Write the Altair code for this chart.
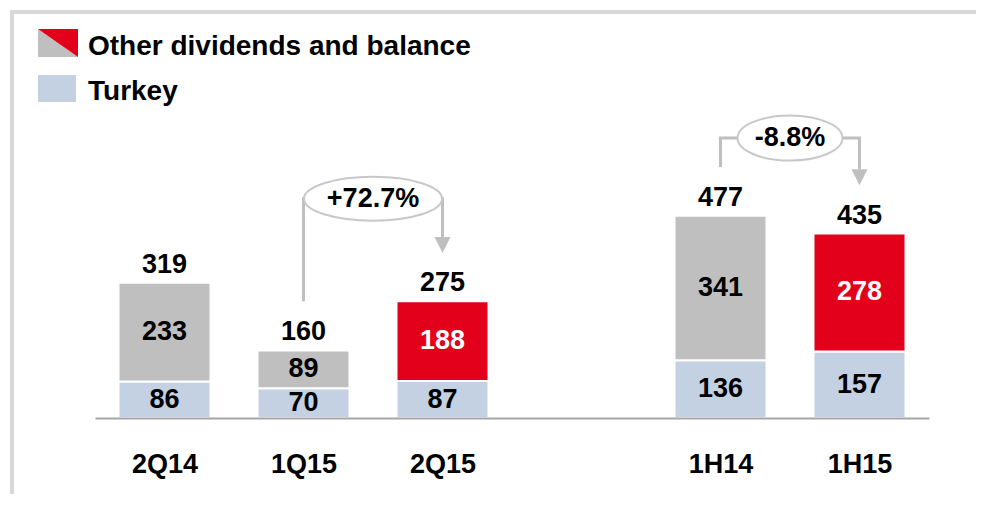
import altair as alt
import pandas as pd

# ---- data ----
categories = ["2Q14", "1Q15", "2Q15", "1H14", "1H15"]
turkey = [86, 70, 87, 136, 157]
other = [233, 89, 188, 341, 278]
totals = [319, 160, 275, 477, 435]
other_kind = ["prior", "prior", "current", "prior", "current"]
legend_labels = ["Other dividends and balance", "Turkey"]
ann_from = ["1Q15", "1H14"]
ann_to = ["2Q15", "1H15"]
ann_text = ["+72.7%", "-8.8%"]

# ---- styling / layout ----
GRAY = "#BFBFBF"
RED = "#E2001A"
BLUE = "#C3D1E2"
LINE = "#BFBFBF"
FONT = "Liberation Sans"
FS = 27
W, H = 834, 313
YMAX = 738
PX = H / YMAX  # pixels per unit

slot = {c: i + (1 if i >= 3 else 0) for i, c in enumerate(categories)}
slots = [slot[c] for c in categories]

rows = []
for i, c in enumerate(categories):
    rows.append(dict(cat=c, slot=slot[c], y0=0, y1=turkey[i], kind="turkey",
                     label=str(turkey[i]), tcol="black"))
    top = turkey[i] + other[i]
    rows.append(dict(cat=c, slot=slot[c], y0=turkey[i], y1=top, kind=other_kind[i],
                     label=str(other[i]), tcol="white" if other_kind[i] == "current" else "black"))
seg = pd.DataFrame(rows)
seg["mid"] = (seg["y0"] + seg["y1"]) / 2
tot = pd.DataFrame(dict(slot=slots, total=totals, label=[str(t) for t in totals]))

label_expr = "".join(f"datum.value == {slot[c]} ? '{c}' : " for c in categories) + "''"


def xenc():
    return alt.X("slot:Q",
                 scale=alt.Scale(domain=[-0.5, 5.5], nice=False, zero=False, padding=0),
                 axis=alt.Axis(values=slots, labelExpr=label_expr, title=None,
                               grid=False, ticks=False, domainColor="#A6A6A6",
                               domainWidth=2, labelFont=FONT, labelFontSize=FS,
                               labelFontWeight="bold", labelColor="black",
                               labelPadding=33, labelBaseline="top", zindex=1))


def yenc(field):
    return alt.Y(field, scale=alt.Scale(domain=[0, YMAX], nice=False, zero=True), axis=None)


bars = alt.Chart(seg).mark_bar(size=92, stroke="white", strokeWidth=2).encode(
    x=xenc(), y=yenc("y0:Q"), y2="y1:Q",
    color=alt.Color("kind:N", scale=alt.Scale(domain=["turkey", "prior", "current"],
                                              range=[BLUE, GRAY, RED]), legend=None))

seg_text = alt.Chart(seg).mark_text(font=FONT, fontSize=FS, fontWeight="bold",
                                    baseline="middle").encode(
    x=xenc(), y=yenc("mid:Q"), text="label:N",
    color=alt.Color("tcol:N", scale=None))

tot_text = alt.Chart(tot).mark_text(font=FONT, fontSize=FS, fontWeight="bold",
                                    baseline="alphabetic", dy=-10, color="black").encode(
    x=xenc(), y=yenc("total:Q"), text="label:N")

# ---- change annotations ----
ann_level = [517, 660]
k = 0.5523
ell_dims = [(69, 22), (52.5, 22.5)]
layers = []
for j in range(len(ann_text)):
    i0 = categories.index(ann_from[j])
    i1 = categories.index(ann_to[j])
    s0, s1 = slot[ann_from[j]], slot[ann_to[j]]
    start = totals[i0] + 115
    tip = totals[i1] + 114
    lvl = ann_level[j]
    head = 16 / PX
    path_df = pd.DataFrame(dict(o=[0, 1, 2, 3], slot=[s0, s0, s1, s1],
                                y=[start, lvl, lvl, tip + head]))
    layers.append(alt.Chart(path_df).mark_line(color=LINE, strokeWidth=3,
                                               strokeJoin="miter", strokeCap="butt").encode(
        x=xenc(), y=yenc("y:Q"), order="o:Q"))
    arrow_df = pd.DataFrame(dict(slot=[s1], y=[tip + head / 2]))
    layers.append(alt.Chart(arrow_df).mark_point(
        shape="M -1 -1 L 1 -1 L 0 1 Z", size=256, filled=True, fill=LINE,
        strokeWidth=0, opacity=1).encode(x=xenc(), y=yenc("y:Q")))
    rx, ry = ell_dims[j]
    r = ry / rx
    ell = (f"M -1 0 C -1 {-k*r:.4f} {-k} {-r:.4f} 0 {-r:.4f} "
           f"C {k} {-r:.4f} 1 {-k*r:.4f} 1 0 "
           f"C 1 {k*r:.4f} {k} {r:.4f} 0 {r:.4f} "
           f"C {-k} {r:.4f} -1 {k*r:.4f} -1 0 Z")
    ell_df = pd.DataFrame(dict(slot=[(s0 + s1) / 2], y=[lvl], label=[ann_text[j]]))
    layers.append(alt.Chart(ell_df).mark_point(
        shape=ell, size=(2 * rx) ** 2, fill="white", fillOpacity=1, stroke="#C8C8C8",
        strokeWidth=2, opacity=1).encode(x=xenc(), y=yenc("y:Q")))
    layers.append(alt.Chart(ell_df).mark_text(
        font=FONT, fontSize=FS, fontWeight="bold", color="black", baseline="middle").encode(
        x=xenc(), y=yenc("y:Q"), text="label:N"))

# ---- frame ----
FR = "#D9D9D9"
frame_top = alt.Chart().mark_rule(color=FR, strokeWidth=4).encode(
    x=alt.value(-85), x2=alt.value(W + 50), y=alt.value(-93))
frame_left = alt.Chart().mark_rule(color=FR, strokeWidth=4).encode(
    x=alt.value(-83), y=alt.value(-95), y2=alt.value(H + 80))

# ---- manual legend ----
sw_red = alt.Chart().mark_point(shape="M -1 -0.7 L 1 -0.7 L 1 0.7 Z", size=1600,
                                filled=True, fill=RED, strokeWidth=0, opacity=1).encode(
    x=alt.value(-37), y=alt.value(-62))
sw_gray = alt.Chart().mark_point(shape="M -1 -0.7 L -1 0.7 L 1 0.7 Z", size=1600,
                                 filled=True, fill=GRAY, strokeWidth=0, opacity=1).encode(
    x=alt.value(-37), y=alt.value(-62))
sw_blue = alt.Chart().mark_rect(color=BLUE).encode(
    x=alt.value(-57), x2=alt.value(-19), y=alt.value(-30), y2=alt.value(-3))
leg_t1 = alt.Chart().mark_text(font=FONT, fontSize=28, fontWeight="bold", color="black",
                               align="left", baseline="alphabetic", text=legend_labels[0]).encode(
    x=alt.value(-7), y=alt.value(-50))
leg_t2 = alt.Chart().mark_text(font=FONT, fontSize=28, fontWeight="bold", color="black",
                               align="left", baseline="alphabetic", text=legend_labels[1]).encode(
    x=alt.value(-7), y=alt.value(-5))

chart = alt.layer(frame_top, frame_left, bars, seg_text, tot_text, *layers,
                  sw_gray, sw_red, sw_blue, leg_t1, leg_t2).properties(
    width=W, height=H, autosize="none",
    padding={"left": 87, "top": 97, "right": 47, "bottom": 76},
).configure_view(stroke=None)

chart.save("out.html", embed_options={"renderer": "svg", "actions": False})
